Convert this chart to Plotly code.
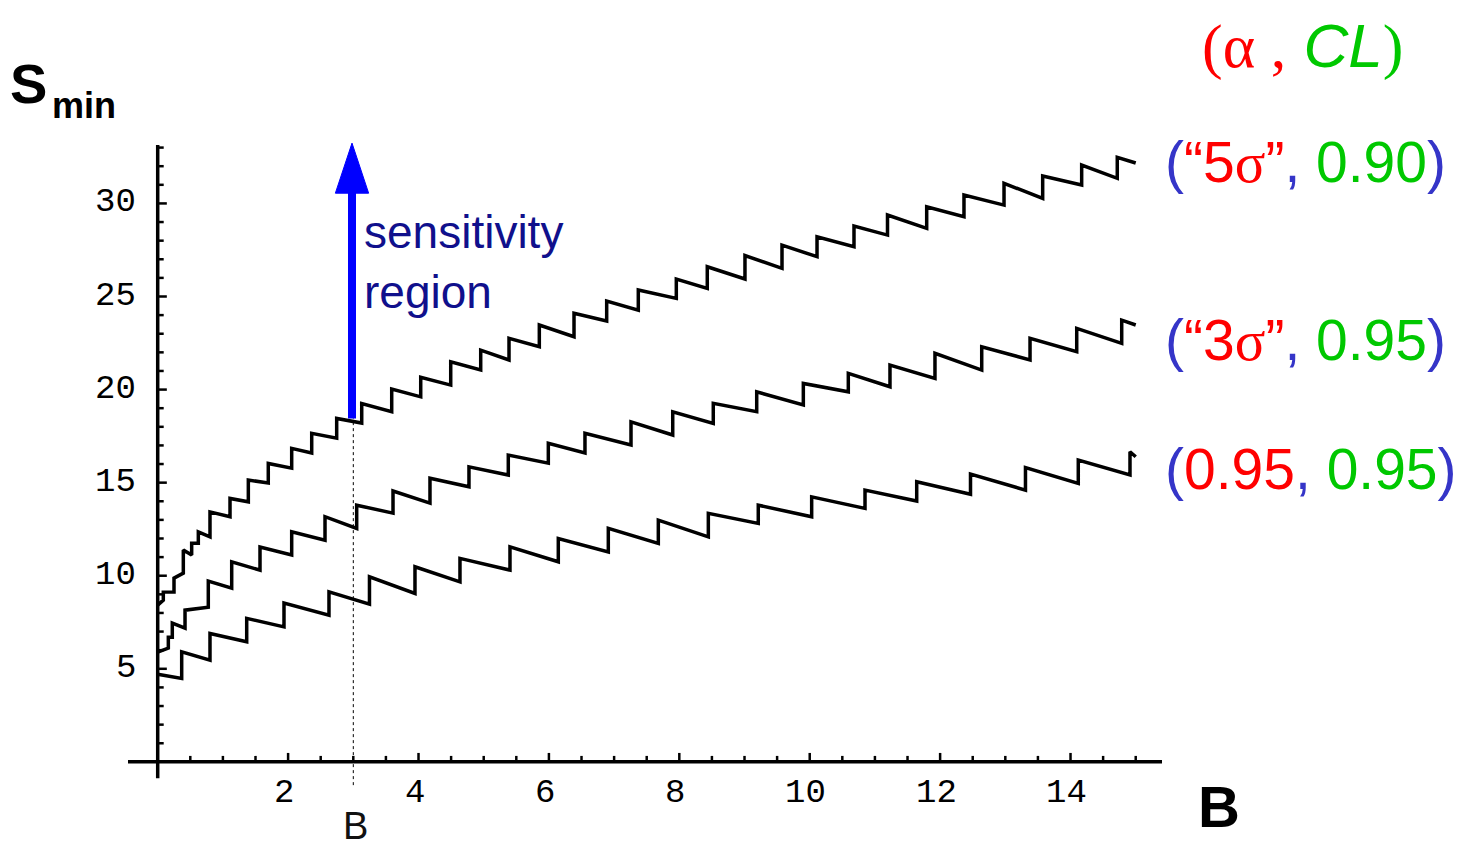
import plotly.graph_objects as go
import numpy as np

# ---------------- data ----------------
# curve ("5σ", 0.90)
top_start = 8.42
top_jump_B = [0.086, 0.25, 0.393, 0.521, 0.623, 0.802, 1.109, 1.390, 1.696, 2.055,
              2.362, 2.745, 3.129, 3.589, 4.034, 4.494, 4.954, 5.388, 5.853, 6.385,
              6.886, 7.371, 7.954, 8.429, 9.007, 9.575, 10.112, 10.679, 11.193, 11.794,
              12.366, 12.980, 13.573, 14.171, 14.717]
top_before = [8.69, 9.13, 10.14, 11.11, 11.75, 12.09, 13.17, 13.97, 14.98, 15.78,
              16.59, 17.39, 18.20, 18.81, 19.61, 20.24, 21.05, 21.59, 22.30, 22.84,
              23.68, 24.27, 24.90, 25.44, 25.94, 26.51, 27.14, 27.67, 28.30, 28.66,
              29.29, 29.91, 30.27, 30.99, 31.35]
top_after = [9.12, 9.87, 11.38, 11.75, 12.36, 13.43, 14.15, 15.14, 16.03, 16.84,
             17.65, 18.45, 19.25, 20.03, 20.66, 21.49, 22.12, 22.75, 23.47, 24.10,
             24.76, 25.35, 25.94, 26.60, 27.20, 27.76, 28.21, 28.79, 29.38, 29.82,
             30.45, 31.08, 31.47, 32.06, 32.48]
top_end = (15.0, 32.17)

# curve ("3σ", 0.95)
mid_start = 5.89
mid_jump_B = [0.163, 0.224, 0.419, 0.776, 1.135, 1.569, 2.055, 2.566, 3.052, 3.609,
              4.176, 4.774, 5.377, 5.991, 6.553, 7.259, 7.899, 8.521, 9.187, 9.902,
              10.592, 11.231, 11.921, 12.638, 13.379, 14.095, 14.785]
mid_before = [6.11, 6.70, 7.18, 8.31, 9.33, 10.30, 11.11, 11.91, 12.54, 13.36,
              13.90, 14.78, 15.41, 16.05, 16.59, 17.02, 17.56, 18.18, 18.81, 19.17,
              19.88, 20.15, 20.60, 21.05, 21.59, 22.03, 22.48]
mid_after = [6.70, 7.45, 8.15, 9.71, 10.75, 11.54, 12.36, 13.17, 13.79, 14.55,
             15.24, 15.85, 16.48, 17.11, 17.65, 18.27, 18.81, 19.26, 19.88, 20.33,
             20.87, 21.32, 21.95, 22.30, 22.75, 23.29, 23.73]
mid_end = (15.0, 23.47)

# curve (0.95, 0.95)
bot_start = 4.71
bot_jump_B = [0.368, 0.802, 1.365, 1.937, 2.627, 3.248, 3.946, 4.636, 5.403, 6.144,
              6.911, 7.678, 8.445, 9.211, 10.030, 10.848, 11.641, 12.466, 13.309, 14.119,
              14.912]
bot_before = [4.48, 5.46, 6.45, 7.25, 7.88, 8.47, 9.05, 9.67, 10.30, 10.75,
              11.28, 11.74, 12.09, 12.81, 13.17, 13.62, 14.01, 14.38, 14.60, 14.96,
              15.41]
bot_after = [5.91, 6.90, 7.71, 8.53, 9.13, 9.94, 10.48, 10.93, 11.55, 12.00,
             12.54, 12.99, 13.35, 13.79, 14.24, 14.60, 15.05, 15.46, 15.81, 16.21,
             16.66]
bot_end = (15.0, 16.39)

x_tick_labels = [2, 4, 6, 8, 10, 12, 14]
x_minor_ticks = list(np.arange(0.5, 15.01, 0.5))
y_tick_labels = [5, 10, 15, 20, 25, 30]
y_minor_ticks = list(range(1, 34))

B_marker = 3.0          # dashed line position
S_at_marker = 18.45     # where the dashed line meets the top curve
arrow_top = 33.24

X_RANGE = [-0.4555, 15.403]
Y_RANGE = [-1.35, 33.3]
Y_AXIS_BOTTOM = -0.876
Y_AXIS_TOP = 33.14


def build(start, jumps, before, after, end):
    xs, ys = [0.0], [start]
    for b, lo, hi in zip(jumps, before, after):
        xs += [b, b]
        ys += [lo, hi]
    xs.append(end[0])
    ys.append(end[1])
    return xs, ys


fig = go.Figure()
for start, jb, bf, af, en in [
    (top_start, top_jump_B, top_before, top_after, top_end),
    (mid_start, mid_jump_B, mid_before, mid_after, mid_end),
    (bot_start, bot_jump_B, bot_before, bot_after, bot_end),
]:
    xs, ys = build(start, jb, bf, af, en)
    fig.add_trace(go.Scatter(x=xs, y=ys, mode="lines",
                             line=dict(color="black", width=3.5),
                             hoverinfo="skip"))

# tick marks
tx, ty = [], []
for t in x_minor_ticks:
    ln = 0.48 if round(t) == t and int(round(t)) % 2 == 0 else 0.32
    tx += [t, t, None]
    ty += [0, ln, None]
for t in y_minor_ticks:
    ln = 0.14 if t % 5 == 0 else 0.092
    tx += [0, ln, None]
    ty += [t, t, None]
fig.add_trace(go.Scatter(x=tx, y=ty, mode="lines",
                         line=dict(color="black", width=2.5), hoverinfo="skip"))

shapes = [
    dict(type="line", xref="x", yref="y", x0=X_RANGE[0], x1=X_RANGE[1], y0=0, y1=0,
         line=dict(color="black", width=3.5)),
    dict(type="line", xref="x", yref="y", x0=0, x1=0, y0=Y_AXIS_BOTTOM, y1=Y_AXIS_TOP,
         line=dict(color="black", width=3.5)),
    dict(type="line", xref="x", yref="y", x0=B_marker, x1=B_marker, y0=-1.25, y1=S_at_marker,
         line=dict(color="black", width=1, dash="3px,3px")),
    dict(type="line", xref="x", yref="y", x0=2.98, x1=2.98, y0=S_at_marker, y1=30.7,
         line=dict(color="#0000FF", width=8)),
    dict(type="path", xref="x", yref="y",
         path=f"M 2.725,30.55 L 3.235,30.55 L 2.98,{arrow_top} Z",
         fillcolor="#0000FF", line=dict(color="#0000FF", width=1)),
]

annotations = []
MONO = "Liberation Mono"
for t in x_tick_labels:
    annotations.append(dict(x=t, y=0, xref="x", yref="y", text=str(t), showarrow=False,
                            xanchor="center", yanchor="middle", xshift=-4, yshift=-31,
                            font=dict(family=MONO, size=34, color="black")))
for t in y_tick_labels:
    annotations.append(dict(x=0, y=t, xref="x", yref="y", text=str(t), showarrow=False,
                            xanchor="right", yanchor="middle", xshift=-20, yshift=1,
                            font=dict(family=MONO, size=34, color="black")))

PL, PW, PB, PH = 128, 1034, 787, 645


def ann(text, px, py, size, color="black", family="Liberation Sans",
        xanchor="left", yanchor="middle", align="left"):
    return dict(text=text, x=(px - PL) / PW, y=(PB - py) / PH, xref="paper", yref="paper",
                showarrow=False, xanchor=xanchor, yanchor=yanchor, align=align,
                font=dict(family=family, size=size, color=color))


RED, GREEN, BLUE = "#FF0000", "#00C800", "#3535C8"
SERIF = "font-family:Liberation Serif"

annotations += [
    ann("<b>S</b>", 8, 84, 56),
    ann("<b>min</b>", 50, 106, 36),
    ann("B", 355, 826, 38, color="#111111", xanchor="center"),
    ann("<b>B</b>", 1219, 806, 58, xanchor="center"),
    ann("sensitivity<br>region", 362, 262, 46, color="#10108C", align="left"),
    ann(f'<span style="color:{RED};{SERIF}">(α ,</span> '
        f'<span style="color:{GREEN}"><i>CL</i></span>'
        f'<span style="color:{GREEN};{SERIF}">)</span>',
        1302, 46, 62, xanchor="center", align="center"),
    ann(f'<span style="color:{BLUE}">(</span><span style="color:{RED}">“5'
        f'<span style="{SERIF}">σ</span>”</span><span style="color:{BLUE}">, </span>'
        f'<span style="color:{GREEN}">0.90</span><span style="color:{BLUE}">)</span>',
        1163, 162, 57),
    ann(f'<span style="color:{BLUE}">(</span><span style="color:{RED}">“3'
        f'<span style="{SERIF}">σ</span>”</span><span style="color:{BLUE}">, </span>'
        f'<span style="color:{GREEN}">0.95</span><span style="color:{BLUE}">)</span>',
        1163, 340, 57),
    ann(f'<span style="color:{BLUE}">(</span><span style="color:{RED}">0.95</span>'
        f'<span style="color:{BLUE}">, </span>'
        f'<span style="color:{GREEN}">0.95</span><span style="color:{BLUE}">)</span>',
        1163, 469, 57),
]

fig.update_layout(
    width=1466, height=850,
    margin=dict(l=PL, r=1466 - PL - PW, t=142, b=850 - PB),
    paper_bgcolor="white", plot_bgcolor="white",
    showlegend=False,
    xaxis=dict(range=X_RANGE, visible=False, fixedrange=True),
    yaxis=dict(range=Y_RANGE, visible=False, fixedrange=True),
    shapes=shapes,
    annotations=annotations,
)

fig.write_html("out.html")
